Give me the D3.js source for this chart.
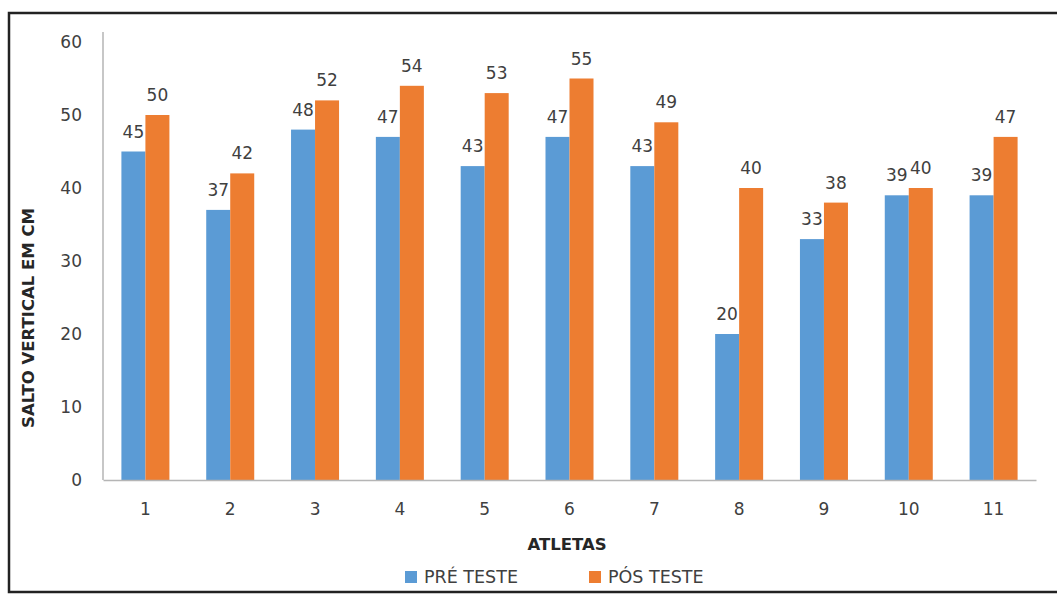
<!DOCTYPE html>
<html>
<head>
<meta charset="utf-8">
<script src="https://cdn.jsdelivr.net/npm/d3@7"></script>
<style>
  html, body { margin: 0; padding: 0; background: #fff; }
  svg { display: block; }
  text { font-family: "DejaVu Sans", Verdana, sans-serif; }
</style>
</head>
<body>
<svg id="chart" width="1057" height="594"></svg>
<script>
// Salto vertical (cm) por atleta, antes e depois do treino
const atletas = ["1", "2", "3", "4", "5", "6", "7", "8", "9", "10", "11"];
const preTeste = [45, 37, 48, 47, 43, 47, 43, 20, 33, 39, 39];
const posTeste = [50, 42, 52, 54, 53, 55, 49, 40, 38, 40, 47];
const yTicks = [0, 10, 20, 30, 40, 50, 60];
const seriesNames = ["PRÉ TESTE", "PÓS TESTE"];
const seriesColors = ["#5B9BD5", "#ED7D31"];

const svg = d3.select("#chart");
const W = 1057, H = 594;

// outer frame
svg.append("rect")
  .attr("x", 9).attr("y", 13)
  .attr("width", W + 20).attr("height", 579)
  .attr("fill", "none").attr("stroke", "#222").attr("stroke-width", 2.5);

const plot = { left: 103, right: 1036, top: 42, bottom: 480 };

const x = d3.scaleBand()
  .domain(atletas)
  .range([plot.left, plot.right])
  .paddingInner(0.434)
  .paddingOuter(0.217);

const xSub = d3.scaleBand()
  .domain([0, 1])
  .range([0, x.bandwidth()]);

const y = d3.scaleLinear().domain([0, 60]).range([plot.bottom, plot.top]);

// y axis
const yAxis = svg.append("g")
  .attr("transform", `translate(${plot.left},0)`)
  .call(d3.axisLeft(y).tickValues(yTicks).tickSize(0).tickPadding(21));
yAxis.select(".domain").remove();
yAxis.selectAll("text")
  .attr("fill", "#404040").style("font-size", "17px");
svg.append("line")
  .attr("x1", plot.left).attr("x2", plot.left)
  .attr("y1", 32).attr("y2", plot.bottom)
  .attr("stroke", "#b5b5b5").attr("stroke-width", 1.5);

// bars
const data = atletas.map((a, i) => ({ a, vals: [preTeste[i], posTeste[i]] }));
const groups = svg.append("g").selectAll("g")
  .data(data).join("g")
  .attr("transform", d => `translate(${x(d.a)},0)`);

groups.selectAll("rect")
  .data(d => d.vals.map((v, k) => ({ v, k })))
  .join("rect")
  .attr("x", d => xSub(d.k))
  .attr("width", xSub.bandwidth())
  .attr("y", d => y(d.v))
  .attr("height", d => y(0) - y(d.v))
  .attr("fill", d => seriesColors[d.k]);

groups.selectAll("text.val")
  .data(d => d.vals.map((v, k) => ({ v, k })))
  .join("text")
  .attr("class", "val")
  .attr("x", d => xSub(d.k) + xSub.bandwidth() / 2)
  .attr("y", d => y(d.v) - 14)
  .attr("text-anchor", "middle")
  .attr("fill", "#404040")
  .style("font-size", "17px")
  .text(d => d.v);

// x axis
const xAxis = svg.append("g")
  .attr("transform", `translate(0,${plot.bottom})`)
  .call(d3.axisBottom(x).tickSize(0).tickPadding(23));
xAxis.select(".domain").attr("stroke", "#b5b5b5").attr("stroke-width", 1.5);
xAxis.selectAll("text")
  .attr("fill", "#404040").style("font-size", "17px");

// axis titles
svg.append("text")
  .attr("x", 567)
  .attr("y", 550)
  .attr("text-anchor", "middle")
  .attr("fill", "#262626")
  .style("font-size", "16.5px").style("font-weight", "bold")
  .text("ATLETAS");

svg.append("text")
  .attr("transform", "translate(34,318) rotate(-90)")
  .attr("text-anchor", "middle")
  .attr("fill", "#262626")
  .style("font-size", "16.5px").style("font-weight", "bold")
  .text("SALTO VERTICAL EM CM");

// legend
const legendX = [405, 589];
const legend = svg.append("g").selectAll("g")
  .data(seriesNames).join("g")
  .attr("transform", (d, i) => `translate(${legendX[i]},571)`);
legend.append("rect")
  .attr("width", 12).attr("height", 12)
  .attr("fill", (d, i) => seriesColors[i]);
legend.append("text")
  .attr("x", 19).attr("y", 12)
  .attr("fill", "#404040")
  .style("font-size", "17.5px")
  .text(d => d);
</script>
</body>
</html>
